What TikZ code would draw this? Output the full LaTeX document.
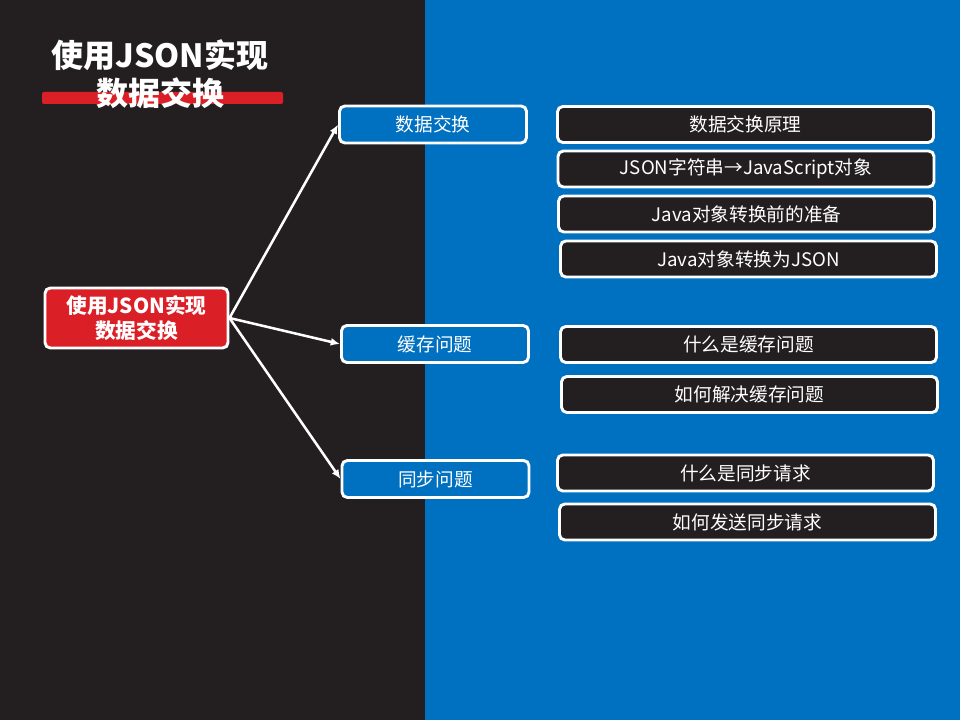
\documentclass[tikz,border=0pt]{standalone}
\usepackage{fontspec}
\setmainfont{Noto Sans CJK SC}
\usetikzlibrary{arrows.meta}

\definecolor{slatebg}{HTML}{231F20}
\definecolor{slideblue}{HTML}{0070C0}
\definecolor{slidered}{HTML}{DA1F26}

\tikzset{
  topicbox/.style={draw=white, line width=2.2pt, rounded corners=4pt,
    fill=slidered, text=white, minimum width=183*0.75pt, minimum height=60*0.75pt,
    align=center, inner sep=0pt, font=\bfseries\fontsize{15.5}{19}\selectfont},
  catbox/.style={draw=white, line width=2.2pt, rounded corners=4pt,
    fill=slideblue, text=white, minimum width=187*0.75pt, minimum height=37*0.75pt,
    inner sep=0pt, font=\fontsize{14}{17}\selectfont},
  itembox/.style={draw=white, line width=2.2pt, rounded corners=4pt,
    fill=slatebg, text=white, minimum width=376*0.75pt, minimum height=36*0.75pt,
    inner sep=0pt, font=\fontsize{14}{17}\selectfont},
  link/.style={draw=white, line width=1.9pt, -{Latex[length=7pt,width=6pt]}}
}

\begin{document}
\begin{tikzpicture}[x=0.75pt, y=-0.75pt]

  % Background halves
  \useasboundingbox (0,0) rectangle (960,720);
  \fill[slatebg] (0,0) rectangle (425,720);
  \fill[slideblue] (425,0) rectangle (960,720);

  % Title with red bar
  \fill[slidered, rounded corners=1.5pt] (42,92) rectangle (283,104);
  \node[text=white, align=center, font=\bfseries\fontsize{24}{28.5}\selectfont] (title) at (160,74)
    {使用JSON实现\\数据交换};

  % Central topic
  \node[topicbox] (topic) at (136.5,318) {使用JSON实现\\数据交换};

  % Categories
  \node[catbox] (exchange) at (433,124.5) {数据交换};
  \node[catbox] (cache) at (435,344) {缓存问题};
  \node[catbox] (sync) at (435.5,479) {同步问题};

  % Items
  \node[itembox] (ex1) at (745.5,124.5) {数据交换原理};
  \node[itembox] (ex2) at (746,169) {JSON字符串→JavaScript对象};
  \node[itembox] (ex3) at (746.5,214) {Java对象转换前的准备};
  \node[itembox] (ex4) at (748.5,259) {Java对象转换为JSON};
  \node[itembox] (ca1) at (748.5,344.5) {什么是缓存问题};
  \node[itembox] (ca2) at (749.5,394.5) {如何解决缓存问题};
  \node[itembox] (sy1) at (745.5,473) {什么是同步请求};
  \node[itembox] (sy2) at (747.5,522) {如何发送同步请求};

  % Connectors
  \draw[link] (topic.east) -- (exchange.west);
  \draw[link] (topic.east) -- (cache.west);
  \draw[link] (topic.east) -- (sync.west);
\end{tikzpicture}
\end{document}
